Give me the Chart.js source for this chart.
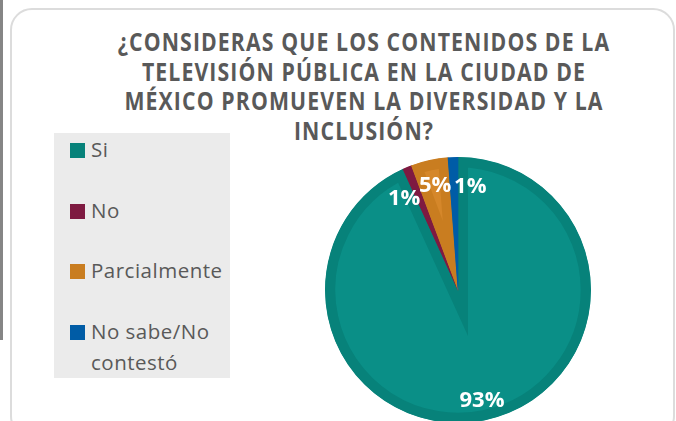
<!DOCTYPE html>
<html>
<head>
<meta charset="utf-8">
<script src="https://cdn.jsdelivr.net/npm/chart.js@4.4.1/dist/chart.umd.min.js"></script>
<style>
  html, body { margin:0; padding:0; background:#fff; }
  #wrap { position:relative; width:676px; height:421px; overflow:hidden; background:#fff; }
  #bar { position:absolute; left:0; top:0; width:3px; height:340px; background:#858585; }
  #card { position:absolute; left:10px; top:8px; width:665px; height:430px; border:2px solid #dcdcdc; border-radius:22px; box-sizing:border-box; }
  #title { position:absolute; left:14px; width:700px; top:27px; text-align:center; font-family:"Open Sans", sans-serif; font-weight:700; font-size:25px; letter-spacing:1.3px; line-height:29.6px; color:#595959; transform:scaleX(0.85); transform-origin:350px 0; }
  #legend { position:absolute; left:54px; top:133px; width:176px; height:245px; background:#ebebeb; }
  .item { position:absolute; left:16px; width:160px; font-family:"Open Sans", sans-serif; font-size:20.5px; letter-spacing:0.5px; line-height:31px; color:#595959; }
  .sw { position:absolute; left:0; top:9px; width:15px; height:15px; }
  .txt { position:absolute; left:21px; top:0; width:150px; }
  canvas { position:absolute; left:0; top:0; }
</style>
</head>
<body>
<div id="wrap">
  <div id="bar"></div>
  <div id="card"></div>
  <div id="title"></div>
  <div id="legend"></div>
  <canvas id="c" width="676" height="421"></canvas>
</div>
<script>
const titleLines = ["¿CONSIDERAS QUE LOS CONTENIDOS DE LA", "TELEVISIÓN PÚBLICA EN LA CIUDAD DE", "MÉXICO PROMUEVEN LA DIVERSIDAD Y LA", "INCLUSIÓN?"];
const categories = ["Si", "No", "Parcialmente", "No sabe/No contestó"];
const legendLines = [["Si"], ["No"], ["Parcialmente"], ["No sabe/No", "contestó"]];
const values = [93.2, 1.1, 4.5, 1.2];
const fillColors = ["#0A8F87", "#8C1E48", "#D5872A", "#0064B2"];
const borderColors = ["#07827A", "#7E1A41", "#C97D20", "#005CA6"];

document.getElementById('title').innerHTML = titleLines.join('<br>');
const lg = document.getElementById('legend');
legendLines.forEach((lines, i) => {
  const it = document.createElement('div');
  it.className = 'item';
  it.style.top = (1 + i * 60.5) + 'px';
  const sw = document.createElement('div');
  sw.className = 'sw';
  sw.style.background = borderColors[i];
  const tx = document.createElement('div');
  tx.className = 'txt';
  tx.innerHTML = lines.join('<br>');
  it.appendChild(sw); it.appendChild(tx);
  lg.appendChild(it);
});

const labelPlugin = {
  id: 'pctLabels',
  afterDatasetsDraw(chart, args, opts) {
    const ctx = chart.ctx;
    const meta = chart.getDatasetMeta(0);
    ctx.save();
    ctx.font = '700 22px "Open Sans", sans-serif';
    ctx.fillStyle = '#ffffff';
    ctx.textBaseline = 'middle';
    meta.data.forEach((arc, i) => {
      const p = arc.getProps(['x', 'y', 'startAngle', 'endAngle', 'outerRadius'], true);
      const mid = (p.startAngle + p.endAngle) / 2;
      const r = p.outerRadius * opts.frac[i];
      const x = p.x + Math.cos(mid) * r;
      const y = p.y + Math.sin(mid) * r;
      ctx.textAlign = opts.align[i];
      ctx.fillText(Math.round(chart.data.datasets[0].data[i]) + '%', x, y);
    });
    ctx.restore();
  }
};

new Chart(document.getElementById('c'), {
  type: 'pie',
  data: {
    labels: categories,
    datasets: [{
      data: values,
      backgroundColor: fillColors,
      borderColor: borderColors,
      borderWidth: 10,
      borderAlign: 'inner',
      borderJoinStyle: 'miter'
    }]
  },
  options: {
    responsive: false,
    animation: false,
    radius: 133,
    layout: { padding: { left: 325, right: 85, top: 159, bottom: 0 } },
    plugins: {
      legend: { display: false },
      title: { display: false },
      tooltip: { enabled: false },
      pctLabels: { frac: [0.85, 0.74, 0.8, 0.78], align: ['center', 'right', 'center', 'left'] }
    }
  },
  plugins: [labelPlugin]
});
</script>
</body>
</html>
